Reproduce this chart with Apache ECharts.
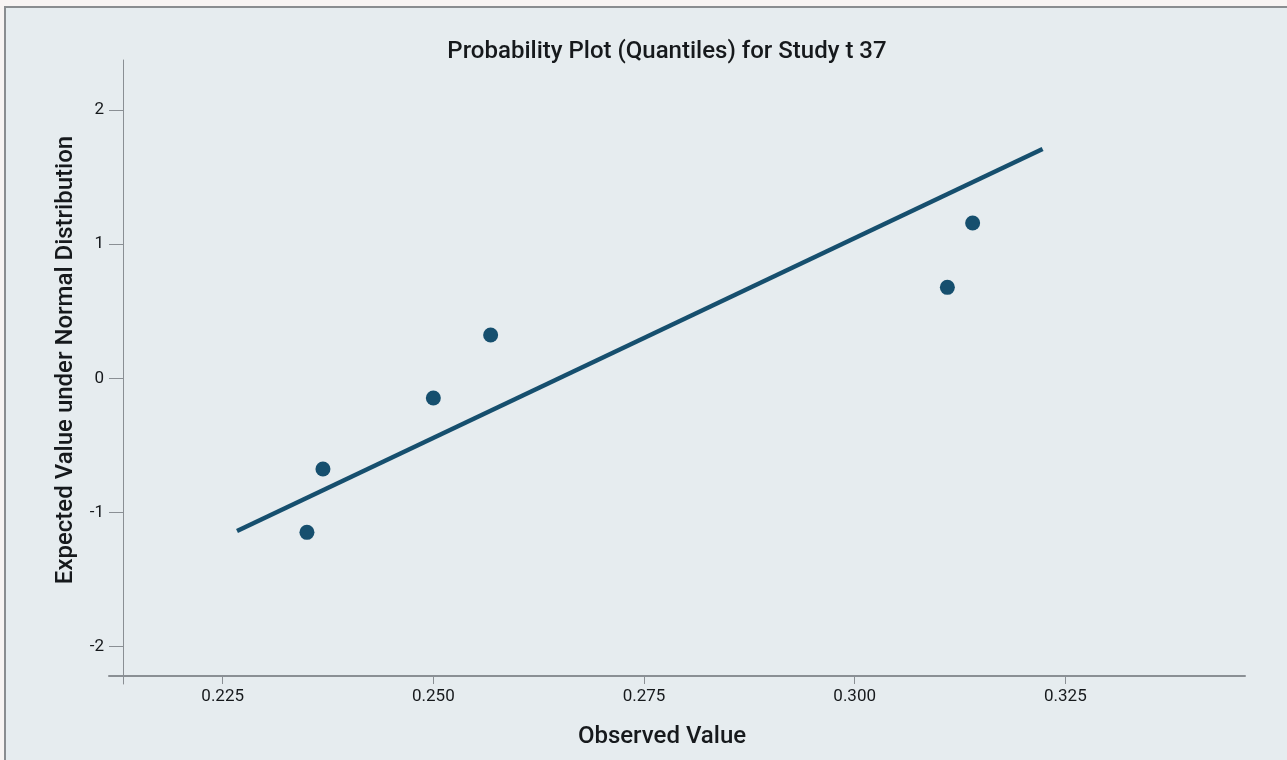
<!DOCTYPE html>
<html>
<head>
<meta charset="utf-8">
<title>Probability Plot</title>
<script src="https://cdn.jsdelivr.net/npm/echarts@6/dist/echarts.min.js"></script>
<style>
  html, body { margin: 0; padding: 0; background: #f8f4f3; }
  #frame {
    position: absolute; left: 4px; top: 6px; width: 1283px; height: 754px;
    background: #e6ecef; border-left: 2px solid #8a8d90; border-top: 2px solid #8a8d90;
    box-sizing: border-box;
  }
  #chart { position: absolute; left: 0; top: 0; width: 1287px; height: 760px; }
</style>
</head>
<body>
<div id="frame"></div>
<div id="chart"></div>
<script>
// observed values and their expected normal quantiles
const observed = [0.2350, 0.2369, 0.2500, 0.2568, 0.3110, 0.3140]
const expected = [-1.148, -0.676, -0.147, 0.323, 0.678, 1.157]

// reference line end points
const lineX = [0.2267, 0.3223]
const lineY = [-1.138, 1.709]

const xTicks = [0.225, 0.250, 0.275, 0.300, 0.325]
const yTicks = [-2, -1, 0, 1, 2]

const mainColor = '#164f6e'
const axisColor = '#8a8f94'
const textColor = '#16191c'
const fontFamily = 'Roboto, "Noto Sans", sans-serif'

const myChart = echarts.init(document.getElementById('chart'))

const option = {
  backgroundColor: 'transparent',
  animation: false,
  title: {
    text: 'Probability Plot (Quantiles) for Study t 37',
    left: 662,
    top: 35,
    textAlign: 'center',
    textStyle: { fontFamily, fontSize: 24, fontWeight: 500, color: textColor }
  },
  grid: { left: 109, right: 42, top: 60, bottom: 76 },
  xAxis: {
    type: 'value',
    min: 0.21151,
    max: 0.34632,
    offset: -8,
    splitLine: { show: false },
    axisLine: { onZero: false, lineStyle: { color: axisColor, width: 2 } },
    axisTick: { show: true, customValues: xTicks, length: 8, lineStyle: { color: axisColor, width: 1 } },
    axisLabel: {
      customValues: xTicks,
      margin: 12,
      color: textColor,
      fontFamily,
      fontSize: 17,
      formatter: v => v.toFixed(3)
    }
  },
  yAxis: {
    type: 'value',
    min: -2.278,
    max: 2.372,
    offset: -14,
    splitLine: { show: false },
    axisLine: { show: true, onZero: false, lineStyle: { color: axisColor, width: 1 } },
    axisTick: { show: true, customValues: yTicks, length: 14, lineStyle: { color: axisColor, width: 1 } },
    axisLabel: {
      customValues: yTicks,
      margin: 19,
      color: textColor,
      fontFamily,
      fontSize: 17
    }
  },
  graphic: [
    {
      type: 'text',
      x: 662,
      y: 737,
      style: {
        text: 'Observed Value',
        fontFamily, fontSize: 24, fontWeight: 500, fill: textColor,
        textAlign: 'center', textVerticalAlign: 'middle'
      }
    },
    {
      type: 'text',
      x: 66,
      y: 360,
      rotation: Math.PI / 2,
      style: {
        text: 'Expected Value under Normal Distribution',
        fontFamily, fontSize: 24, fontWeight: 500, fill: textColor,
        textAlign: 'center', textVerticalAlign: 'middle'
      }
    }
  ],
  series: [
    {
      type: 'line',
      data: lineX.map((x, i) => [x, lineY[i]]),
      symbol: 'none',
      lineStyle: { color: mainColor, width: 4.5 },
      z: 2
    },
    {
      type: 'scatter',
      data: observed.map((x, i) => [x, expected[i]]),
      symbolSize: 15,
      itemStyle: { color: mainColor, opacity: 1 },
      z: 3
    }
  ]
}

myChart.setOption(option)
</script>
</body>
</html>
